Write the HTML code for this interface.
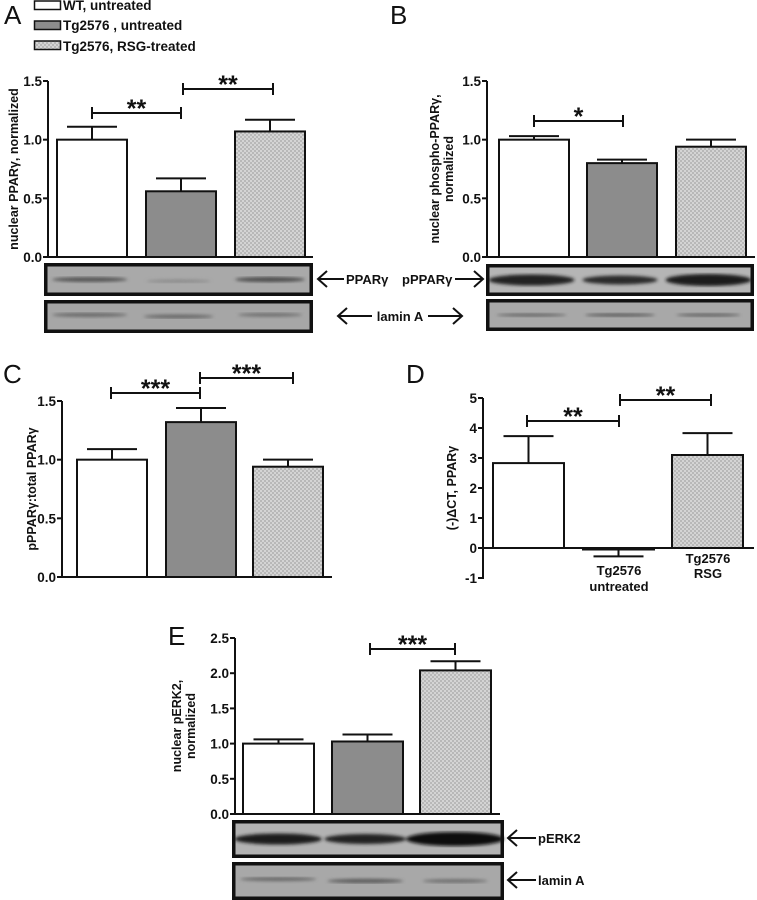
<!DOCTYPE html>
<html><head><meta charset="utf-8">
<style>
html,body{margin:0;padding:0;background:#fff;}
svg{display:block;font-family:"Liberation Sans",Arial,sans-serif;}
.tick{font-size:13.5px;font-weight:bold;fill:#111;}
.ylab{font-size:12.5px;font-weight:bold;fill:#111;}
.plab{font-size:26px;fill:#111;}
.leg{font-size:13.5px;font-weight:bold;fill:#111;}
.star{font-size:25px;font-weight:bold;fill:#111;}
.blab{font-size:13px;font-weight:bold;fill:#111;}
</style></head>
<body>
<svg id="fig" width="757" height="900" viewBox="0 0 757 900">
<defs>
<pattern id="hatch" width="4" height="4" patternUnits="userSpaceOnUse">
<rect width="4" height="4" fill="#d4d4d4"/>
<rect width="2" height="2" fill="#b8b8b8"/>
<rect x="2" y="2" width="2" height="2" fill="#b8b8b8"/>
</pattern>
<filter id="blur"><feGaussianBlur stdDeviation="1.6"/></filter>
</defs>
<g id="legend">
<g><rect x="34.5" y="1" width="26" height="8.5" fill="#fff" stroke="#111" stroke-width="1.5"/><text class="leg" x="63" y="10">WT, untreated</text></g>
<g><rect x="34.5" y="21" width="26" height="8.5" fill="#8c8c8c" stroke="#111" stroke-width="1.5"/><text class="leg" x="63" y="30">Tg2576 , untreated</text></g>
<g><rect x="34.5" y="41" width="26" height="8.5" fill="url(#hatch)" stroke="#111" stroke-width="1.5"/><text class="leg" x="63" y="51">Tg2576, RSG-treated</text></g>
</g>
</svg>
<script>
// ---- data ----
const groups = ["WT, untreated","Tg2576, untreated","Tg2576, RSG-treated"];
const aValues = [1.0, 0.56, 1.07];
const aErrors = [0.11, 0.11, 0.10];
const aTicks = [0.0, 0.5, 1.0, 1.5];
const aTickLabels = ["0.0","0.5","1.0","1.5"];
const bValues = [1.0, 0.80, 0.94];
const bErrors = [0.03, 0.03, 0.06];
const bTicks = [0.0, 0.5, 1.0, 1.5];
const bTickLabels = ["0.0","0.5","1.0","1.5"];
const cValues = [1.0, 1.32, 0.94];
const cErrors = [0.09, 0.12, 0.06];
const cTicks = [0.0, 0.5, 1.0, 1.5];
const cTickLabels = ["0.0","0.5","1.0","1.5"];
const dValues = [2.83, -0.05, 3.1];
const dErrors = [0.9, 0.23, 0.73];
const dTicks = [-1, 0, 1, 2, 3, 4, 5];
const dTickLabels = ["-1","0","1","2","3","4","5"];
const eValues = [1.0, 1.03, 2.04];
const eErrors = [0.06, 0.10, 0.13];
const eTicks = [0.0, 0.5, 1.0, 1.5, 2.0, 2.5];
const eTickLabels = ["0.0","0.5","1.0","1.5","2.0","2.5"];

const NS = "http://www.w3.org/2000/svg";
const svg = document.getElementById("fig");
function mk(tag, attrs, parent, text){
  const e = document.createElementNS(NS, tag);
  for (const k in attrs) e.setAttribute(k, attrs[k]);
  if (text !== undefined) e.textContent = text;
  (parent || svg).appendChild(e);
  return e;
}
const fills = ["#ffffff","#8c8c8c","url(#hatch)"];

function panel(cfg){
  const g = mk("g", {});
  
  
  const ymin = cfg.ticks[0], ymax = cfg.ticks[cfg.ticks.length-1];
  const y = v => cfg.y0 + (v - ymin) / (ymax - ymin) * (cfg.y1 - cfg.y0);
  const pl = mk("text", {class:"plab", x:cfg.letterX, y:cfg.letterY}, g, cfg.letter);
  
  
  const zero = y(Math.max(0, ymin));
  cfg.values.forEach((v, i) => {
    const x0 = cfg.barX[i], w = cfg.barW;
    const top = Math.min(y(v), zero), h = Math.abs(y(v) - zero);
    const b = mk("rect", {x:x0, y:top, width:w, height:Math.max(h,0.5), fill:fills[i], stroke:"#111", "stroke-width":2}, g);
    
    
    const cx = x0 + w/2, dir = v >= 0 ? 1 : -1;
    const ye = y(v + dir * cfg.errors[i]);
    const eb = mk("path", {d:`M${cx},${y(v)}V${ye}M${cx-25},${ye}H${cx+25}`, stroke:"#111", "stroke-width":2, fill:"none"}, g);
    
    
  });
  const ax = mk("path", {d:`M${cfg.axisX},${y(ymax)}V${y(ymin)}` + (ymin<0?`H${cfg.axisX-5}`:""), stroke:"#111", "stroke-width":2, fill:"none"}, g);
  
  
  const xa = mk("path", {d:`M${cfg.axisX},${zero}H${cfg.axisEnd}`, stroke:"#111", "stroke-width":2, fill:"none"}, g);
  
  
  cfg.ticks.forEach((t, i) => {
    mk("path", {d:`M${cfg.axisX-5},${y(t)}H${cfg.axisX}`, stroke:"#111", "stroke-width":2}, g);
    const tl = mk("text", {class:"tick", x:cfg.axisX-6, y:y(t)+5, "text-anchor":"end"}, g, cfg.tickLabels[i]);
    
    
  });
  const midY = (y(ymax) + y(ymin)) / 2;
  const yl = mk("text", {class:"ylab", transform:`translate(${cfg.ylabX},${midY}) rotate(-90)`, "text-anchor":"middle"}, g);
  
  
  cfg.ylab.forEach((line, k) => mk("tspan", {x:0, dy: k===0 ? (-(cfg.ylab.length-1)*7) : 14}, yl, line));
  cfg.sig.forEach(s => {
    const sg = mk("g", {}, g);
    
    
    mk("path", {d:`M${s[0]},${s[2]-6}V${s[2]+6}M${s[0]},${s[2]}H${s[1]}M${s[1]},${s[2]-6}V${s[2]+6}`, stroke:"#111", "stroke-width":2, fill:"none"}, sg);
    mk("text", {class:"star", x:(s[0]+s[1])/2, y:s[2]+4, "text-anchor":"middle"}, sg, s[3]);
  });
  return g;
}

function blot(name, x, yT, w, h, bands, bg){
  const g = mk("g", {});
  
  
  mk("rect", {x:x+2, y:yT+2, width:w-4, height:h-4, fill:bg}, g);
  const bg2 = mk("g", {filter:"url(#blur)"}, g);
  bands.forEach(b => mk("ellipse", {cx:x + b[0]*w, cy:yT + b[1]*h, rx:b[2]*w, ry:b[3], fill:b[4]}, bg2));
  mk("rect", {x:x+1.75, y:yT+1.75, width:w-3.5, height:h-3.5, fill:"none", stroke:"#111", "stroke-width":3.5}, g);
}
function label(name, x, y, text, anchor){
  const t = mk("text", {class:"blab", x:x, y:y, "text-anchor":anchor||"start"}, svg, text);
  
  
  return t;
}
function arrow(name, x1, x2, yy){
  const p = mk("path", {d:`M${x1},${yy}H${x2}M${x2 + (x2>x1?-9:9)},${yy-8}L${x2},${yy}L${x2 + (x2>x1?-9:9)},${yy+8}`, stroke:"#111", "stroke-width":2, fill:"none"});
  
  
}

panel({name:"panel-a", letter:"A", letterX:4, letterY:24, values:aValues, errors:aErrors, ticks:aTicks, tickLabels:aTickLabels,
  y0:257, y1:81, axisX:48, axisEnd:313, barX:[57,146,235], barW:70, ylabX:18, ylab:["nuclear PPARγ, normalized"],
  sig:[[92,181,113,"**"],[183,273,89,"**"]]});
panel({name:"panel-b", letter:"B", letterX:390, letterY:24, values:bValues, errors:bErrors, ticks:bTicks, tickLabels:bTickLabels,
  y0:257, y1:81, axisX:487, axisEnd:755, barX:[499,587,676], barW:70, ylabX:446, ylab:["nuclear phospho-PPARγ,","normalized"],
  sig:[[534,623,121,"*"]]});
panel({name:"panel-c", letter:"C", letterX:3, letterY:383, values:cValues, errors:cErrors, ticks:cTicks, tickLabels:cTickLabels,
  y0:577, y1:401, axisX:62, axisEnd:332, barX:[77,166,253], barW:70, ylabX:36, ylab:["pPPARγ:total PPARγ"],
  sig:[[111,200,393,"***"],[200,293,378,"***"]]});
panel({name:"panel-d", letter:"D", letterX:406, letterY:383, values:dValues, errors:dErrors, ticks:dTicks, tickLabels:dTickLabels,
  y0:578, y1:398, axisX:483, axisEnd:754, barX:[493,583,672], barW:71, ylabX:456, ylab:["(-)ΔCT, PPARγ"],
  sig:[[527,619,421,"**"],[620,711,400,"**"]]});
label("x-label-tg-untreated-1", 619, 575, "Tg2576", "middle");
label("x-label-tg-untreated-2", 619, 591, "untreated", "middle");
label("x-label-tg-rsg-1", 708, 563, "Tg2576", "middle");
label("x-label-tg-rsg-2", 708, 578, "RSG", "middle");
panel({name:"panel-e", letter:"E", letterX:168, letterY:645, values:eValues, errors:eErrors, ticks:eTicks, tickLabels:eTickLabels,
  y0:814, y1:638, axisX:235, axisEnd:500, barX:[243,332,420], barW:71, ylabX:188, ylab:["nuclear pERK2,","normalized"],
  sig:[[370,455,649,"***"]]});

blot("blot-a-ppar", 44, 263, 269, 33, [[0.17,0.5,0.14,2.4,"#555"],[0.5,0.55,0.12,1.5,"#888"],[0.84,0.5,0.13,2.6,"#505050"]], "#a9a9a9");
blot("blot-a-lamin", 44, 300, 269, 33, [[0.17,0.45,0.14,1.9,"#666"],[0.5,0.5,0.13,1.9,"#666"],[0.84,0.45,0.12,1.7,"#6a6a6a"]], "#a6a6a6");
blot("blot-b-pppar", 486, 264, 268, 32, [[0.17,0.5,0.16,5.5,"#222"],[0.5,0.5,0.14,4.5,"#2a2a2a"],[0.83,0.5,0.16,6,"#1d1d1d"]], "#b5b5b5");
blot("blot-b-lamin", 486, 299, 268, 32, [[0.17,0.5,0.13,1.6,"#666"],[0.5,0.5,0.13,1.8,"#5f5f5f"],[0.83,0.5,0.12,1.7,"#666"]], "#a8a8a8");
blot("blot-e-perk2", 232, 820, 272, 38, [[0.17,0.5,0.16,5.5,"#1e1e1e"],[0.49,0.5,0.15,5,"#222"],[0.82,0.5,0.18,7,"#111"]], "#b3b3b3");
blot("blot-e-lamin", 232, 862, 272, 38, [[0.17,0.45,0.14,1.9,"#666"],[0.49,0.5,0.14,2.1,"#5c5c5c"],[0.82,0.5,0.12,1.7,"#6a6a6a"]], "#a8a8a8");

arrow("arrow-ppar", 344, 318, 279);
label("label-ppar", 346, 284, "PPARγ");
label("label-pppar", 402, 284, "pPPARγ");
arrow("arrow-pppar", 455, 483, 279);
arrow("arrow-lamin-left", 372, 338, 316);
label("label-lamin-a", 400, 321, "lamin A", "middle");
arrow("arrow-lamin-right", 428, 462, 316);
arrow("arrow-perk2", 536, 508, 838);
label("label-perk2", 538, 843, "pERK2");
arrow("arrow-lamin-e", 536, 508, 880);
label("label-lamin-e", 538, 885, "lamin A");
</script>
</body></html>
